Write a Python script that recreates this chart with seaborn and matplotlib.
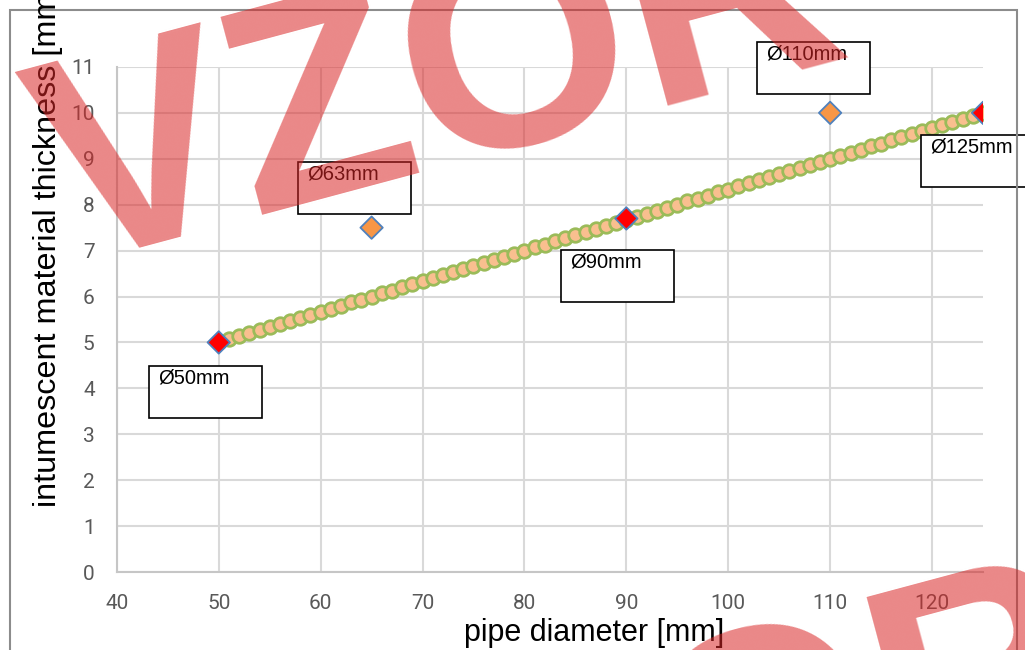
import matplotlib
matplotlib.use("Agg")
import matplotlib.pyplot as plt
import matplotlib.patches as mpatches
import pandas as pd
import seaborn as sns

# fitted line (one dot per mm of diameter)
line_x = [50, 51, 52, 53, 54, 55, 56, 57, 58, 59, 60, 61, 62, 63, 64, 65,
          66, 67, 68, 69, 70, 71, 72, 73, 74, 75, 76, 77, 78, 79, 80,
          81, 82, 83, 84, 85, 86, 87, 88, 89, 90, 91, 92, 93, 94, 95,
          96, 97, 98, 99, 100, 101, 102, 103, 104, 105, 106, 107, 108, 109, 110,
          111, 112, 113, 114, 115, 116, 117, 118, 119, 120, 121, 122, 123, 124, 125]
line_y = [5.00, 5.07, 5.13, 5.20, 5.27, 5.33, 5.40, 5.47, 5.53, 5.60, 5.67, 5.73, 5.80, 5.87, 5.93, 6.00,
          6.07, 6.13, 6.20, 6.27, 6.33, 6.40, 6.47, 6.53, 6.60, 6.67, 6.73, 6.80, 6.87, 6.93, 7.00,
          7.07, 7.13, 7.20, 7.27, 7.33, 7.40, 7.47, 7.53, 7.60, 7.67, 7.73, 7.80, 7.87, 7.93, 8.00,
          8.07, 8.13, 8.20, 8.27, 8.33, 8.40, 8.47, 8.53, 8.60, 8.67, 8.73, 8.80, 8.87, 8.93, 9.00,
          9.07, 9.13, 9.20, 9.27, 9.33, 9.40, 9.47, 9.53, 9.60, 9.67, 9.73, 9.80, 9.87, 9.93, 10.00]

# measured pipes
pipe_d = [50, 65, 90, 110, 125]
pipe_t = [5.0, 7.5, 7.7, 10.0, 10.0]
on_line = [True, False, True, False, True]
pipe_labels = ['Ø50mm', 'Ø63mm', 'Ø90mm', 'Ø110mm', 'Ø125mm']
# top-left corner of each label box (data units)
box_x = [43.2, 57.75, 83.6, 102.85, 118.9]
box_y = [4.49, 8.93, 7.02, 11.55, 9.52]

sns.set_theme(style='white')
plt.rcParams['font.family'] = ['Liberation Sans', 'DejaVu Sans']

fig = plt.figure(figsize=(10.25, 6.5), dpi=100)
ax = fig.add_axes([0.114, 0.12, 0.845, 0.777])

line_df = pd.DataFrame({'d': line_x, 't': line_y})
pts = pd.DataFrame({'d': pipe_d, 't': pipe_t, 'fit': on_line})

sns.scatterplot(data=line_df, x='d', y='t', ax=ax, s=95, color='#f9bf8f',
                edgecolor='#9bbb59', linewidth=2.0, zorder=3, legend=False)
sns.scatterplot(data=pts, x='d', y='t', hue='fit', ax=ax, marker='D', s=130,
                palette={True: '#ff0000', False: '#f79646'},
                edgecolor='#4f81bd', linewidth=1.3, zorder=4, legend=False)

# label boxes
bw, bh = 11.08, 1.13
for lab, bx, by in zip(pipe_labels, box_x, box_y):
    ax.add_patch(mpatches.Rectangle((bx, by - bh), bw, bh, facecolor='white',
                                    edgecolor='black', lw=1.2, zorder=5, clip_on=False))
    ax.text(bx + 0.9, by - 0.06, lab, ha='left', va='top', fontsize=14.5,
            color='black', zorder=6, clip_on=False)

ax.set_xlim(40, 125)
ax.set_ylim(0, 11)
ax.set_xticks(range(40, 121, 10))
ax.set_yticks(range(0, 12))
ax.grid(True, color='#d9d9d9', lw=1.5)
ax.set_axisbelow(True)
for side in ['top', 'right']:
    ax.spines[side].set_visible(False)
for side in ['left', 'bottom']:
    ax.spines[side].set_color('#c6c6c6')
    ax.spines[side].set_linewidth(1.5)
ax.tick_params(length=0, pad=16, labelsize=15, labelcolor='#595959')
for t in ax.get_xticklabels() + ax.get_yticklabels():
    t.set_fontfamily('Roboto')
ax.set_xlabel('')
ax.set_ylabel('')

fig.text(0.58, 0.014, 'pipe diameter [mm]', ha='center', va='baseline',
         fontsize=22, color='black')
fig.text(0.047, 0.22, 'intumescent material thickness [mm]', ha='center',
         va='bottom', rotation=90, fontsize=23.3, color='black')

# outer chart frame
fig.patches.append(mpatches.Rectangle((0.0098, -0.05), 0.9824, 1.0346,
                                      transform=fig.transFigure, fill=False,
                                      edgecolor='#8c8c8c', lw=1.5))

# watermark
for cx, cy in [(0.43, 0.865), (0.675, -0.19)]:
    fig.text(cx, cy, 'VZOR', ha='center', va='center', rotation=15,
             fontsize=212, fontweight='bold', color='#d92626', alpha=0.55,
             zorder=20)

fig.savefig('out.png', dpi=100)
